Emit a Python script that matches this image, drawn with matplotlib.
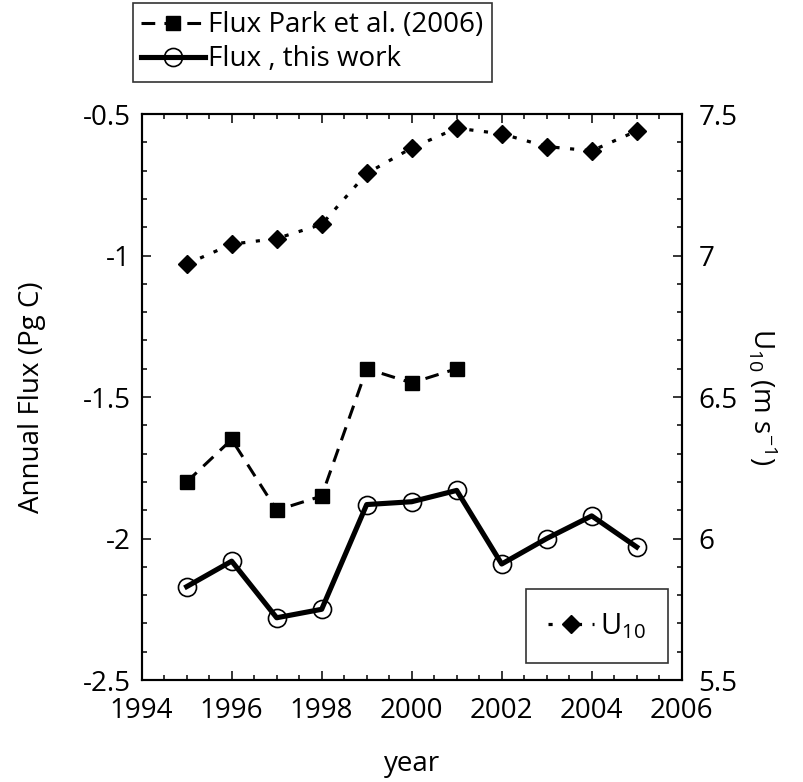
import numpy as np
import matplotlib
matplotlib.use('Agg')
import matplotlib.pyplot as plt
from matplotlib.ticker import MultipleLocator, FuncFormatter

plt.rcParams['font.family'] = ['Open Sans', 'DejaVu Sans']
plt.rcParams['mathtext.fontset'] = 'custom'
plt.rcParams['mathtext.rm'] = 'Open Sans'
plt.rcParams['mathtext.it'] = 'Open Sans'
plt.rcParams['axes.unicode_minus'] = False

# yearly values
years = [1995, 1996, 1997, 1998, 1999, 2000, 2001, 2002, 2003, 2004, 2005]
flux_this_work = [-2.17, -2.08, -2.28, -2.25, -1.88, -1.87, -1.83, -2.09, -2.00, -1.92, -2.03]

park_years = [1995, 1996, 1997, 1998, 1999, 2000, 2001]
flux_park = [-1.80, -1.65, -1.90, -1.85, -1.40, -1.45, -1.40]

u10 = [6.97, 7.04, 7.06, 7.11, 7.29, 7.38, 7.45, 7.43, 7.385, 7.37, 7.44]

fig = plt.figure(figsize=(8.04, 7.82), dpi=100)
ax = fig.add_axes([0.1762, 0.1304, 0.6717, 0.7238])
ax2 = ax.twinx()

l_park, = ax.plot(park_years, flux_park, color='black', lw=2.2, dashes=(4.5, 3),
                  marker='s', ms=10.5, mfc='black', mec='black')
l_this, = ax.plot(years, flux_this_work, color='black', lw=3.7,
                  marker='o', ms=13, mfc='none', mec='black', mew=1.2)
l_u10, = ax2.plot(years, u10, color='black', lw=2.3, dashes=(1.3, 3.3),
                  marker='D', ms=9, mfc='black', mec='black')

ax.set_xlim(1994, 2006)
ax.set_ylim(-2.5, -0.5)
ax2.set_ylim(5.5, 7.5)

fmt = FuncFormatter(lambda v, p: '%g' % round(v, 2))
ax.xaxis.set_major_locator(MultipleLocator(2))
ax.xaxis.set_minor_locator(MultipleLocator(0.5))
ax.yaxis.set_major_locator(MultipleLocator(0.5))
ax.yaxis.set_minor_locator(MultipleLocator(0.1))
ax.yaxis.set_major_formatter(fmt)
ax2.yaxis.set_major_locator(MultipleLocator(0.5))
ax2.yaxis.set_minor_locator(MultipleLocator(0.1))
ax2.yaxis.set_major_formatter(fmt)

ax.tick_params(axis='x', which='both', direction='in', top=True, labelsize=20, pad=12)
ax.tick_params(axis='y', which='both', direction='in', labelsize=20, pad=8)
ax2.tick_params(axis='y', which='both', direction='in', labelsize=20, pad=12)
for a in (ax, ax2):
    a.tick_params(which='major', length=6.5, width=1.1)
    a.tick_params(which='minor', length=3.5, width=1.1)
    for s in a.spines.values():
        s.set_linewidth(1.5)

ax.set_xlabel('year', fontsize=20, labelpad=18)
ax.set_ylabel('Annual Flux (Pg C)', fontsize=20, labelpad=26)
ax2.set_ylabel(r'U$_{10}$ (m s$^{-1}$)', fontsize=20, rotation=270, labelpad=30)

leg1 = fig.legend([l_park, l_this], ['Flux Park et al. (2006)', 'Flux , this work'],
                  loc='upper left', bbox_to_anchor=(133 / 804, 1 - 3 / 782),
                  fontsize=20, frameon=True, fancybox=False, handlelength=2.3,
                  handletextpad=0.1, borderpad=0.3, labelspacing=0.22,
                  borderaxespad=0)
leg1.get_frame().set_edgecolor('black')
leg1.get_frame().set_linewidth(1.2)

leg2 = ax.legend([l_u10], [r'U$_{10}$'], loc='lower right',
                 bbox_to_anchor=(668 / 804, 1 - 663 / 782), bbox_transform=fig.transFigure,
                 fontsize=21, frameon=True, fancybox=False, handlelength=1.6,
                 handletextpad=0.2, borderpad=0.75, borderaxespad=0)
leg2.get_frame().set_edgecolor('black')
leg2.get_frame().set_linewidth(1.2)

fig.savefig('out.png', dpi=100)
